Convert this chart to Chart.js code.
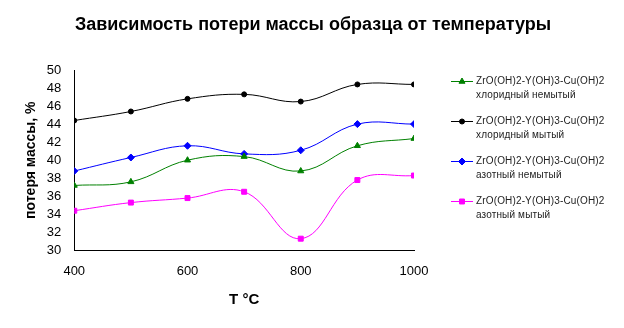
<!DOCTYPE html>
<html>
<head>
<meta charset="utf-8">
<script src="https://cdn.jsdelivr.net/npm/chart.js@4"></script>
<style>
  html, body { margin: 0; padding: 0; background: #fff; }
  #wrap { width: 624px; height: 328px; }
</style>
</head>
<body>
<div id="wrap"><canvas id="c" width="624" height="328"></canvas></div>
<script>
// Temperatures, °C
const temperatures = [400, 500, 600, 700, 800, 900, 1000];
// Mass loss, %
const chlorideUnwashed = [37.2, 37.6, 40.0, 40.4, 38.8, 41.6, 42.4];
const chlorideWashed   = [44.4, 45.4, 46.8, 47.3, 46.5, 48.4, 48.4];
const nitrateUnwashed  = [38.8, 40.3, 41.6, 40.7, 41.1, 44.0, 44.0];
const nitrateWashed    = [34.4, 35.3, 35.8, 36.5, 31.3, 37.8, 38.3];
const xTicks = [400, 600, 800, 1000];
const yTicks = [30, 32, 34, 36, 38, 40, 42, 44, 46, 48, 50];

const chartTitle = 'Зависимость потери массы образца от температуры';
const compound = 'ZrO(OH)2-Y(OH)3-Cu(OH)2';
const seriesLabels = [
  [compound, 'хлоридный немытый'],
  [compound, 'хлоридный мытый'],
  [compound, 'азотный немытый'],
  [compound, 'азотный мытый']
];

const FONT = '"Liberation Sans", Arial, sans-serif';

function pts(values) {
  return temperatures.map((t, i) => ({ x: t, y: values[i] }));
}

function series(values, label, color, style, radius) {
  return {
    label: label,
    data: pts(values),
    borderColor: color,
    backgroundColor: color,
    borderWidth: 1,
    pointStyle: style,
    pointRadius: radius,
    pointBorderWidth: 1,
    pointHoverRadius: radius,
    tension: 0.4
  };
}

// Title centred across the whole canvas
const pageTitle = {
  id: 'pageTitle',
  afterDraw(chart) {
    const ctx = chart.ctx;
    ctx.save();
    ctx.fillStyle = '#000';
    ctx.font = 'bold 18px ' + FONT;
    ctx.textAlign = 'center';
    ctx.textBaseline = 'middle';
    ctx.fillText(chartTitle, 313, 25);
    ctx.restore();
  }
};

// Legend on the right side, two lines per entry
const sideLegend = {
  id: 'sideLegend',
  afterDraw(chart) {
    const ctx = chart.ctx;
    ctx.save();
    const x0 = 451, x1 = 473, tx = 476;
    let y = 81;
    chart.data.datasets.forEach(ds => {
      ctx.strokeStyle = ds.borderColor;
      ctx.fillStyle = ds.backgroundColor;
      ctx.lineWidth = 1;
      ctx.beginPath();
      ctx.moveTo(x0, y + 0.5);
      ctx.lineTo(x1, y + 0.5);
      ctx.stroke();
      Chart.helpers.drawPoint(ctx, {
        pointStyle: ds.pointStyle,
        radius: ds.pointRadius,
        rotation: 0,
        borderWidth: 1
      }, (x0 + x1) / 2, y + 0.5);
      ctx.fillStyle = '#222';
      ctx.font = '10px ' + FONT;
      ctx.textBaseline = 'middle';
      ctx.textAlign = 'left';
      if ('letterSpacing' in ctx) ctx.letterSpacing = '0.15px';
      ctx.fillText(ds.label[0], tx, y);
      ctx.fillText(ds.label[1], tx, y + 14);
      if ('letterSpacing' in ctx) ctx.letterSpacing = '0px';
      y += 40;
    });
    ctx.restore();
  }
};

Chart.defaults.font.family = FONT;
Chart.defaults.color = '#000';

new Chart(document.getElementById('c'), {
  type: 'line',
  data: {
    datasets: [
      series(chlorideUnwashed, seriesLabels[0], '#008000', 'triangle', 3.5),
      series(chlorideWashed,   seriesLabels[1], '#000000', 'circle', 2.5),
      series(nitrateUnwashed,  seriesLabels[2], '#0000ff', 'rectRot', 3.5),
      series(nitrateWashed,    seriesLabels[3], '#ff00ff', 'rect', 3.5)
    ]
  },
  options: {
    responsive: false,
    animation: false,
    events: [],
    layout: { padding: { top: 70, right: 210, left: 23, bottom: 15 } },
    plugins: {
      legend: { display: false },
      tooltip: { enabled: false },
      title: { display: false }
    },
    scales: {
      x: {
        type: 'linear',
        min: 400,
        max: 1000,
        afterBuildTicks(scale) { scale.ticks = xTicks.map(v => ({ value: v })); },
        grid: { display: false, drawOnChartArea: false, drawTicks: true, tickLength: 5, color: '#000' },
        border: { display: true, color: '#000', width: 1 },
        ticks: { font: { size: 13 }, color: '#000', padding: 8, maxRotation: 0, autoSkip: false, callback: v => String(v) },
        title: { display: true, text: 'T °C', font: { size: 15, weight: 'bold' }, color: '#000', padding: { top: 4, bottom: 4 } }
      },
      y: {
        min: 30,
        max: 50,
        afterBuildTicks(scale) { scale.ticks = yTicks.map(v => ({ value: v })); },
        grid: { display: false, drawOnChartArea: false, drawTicks: true, tickLength: 6, color: '#000' },
        border: { display: true, color: '#000', width: 1 },
        ticks: { font: { size: 13 }, color: '#000', padding: 7, autoSkip: false },
        title: { display: true, text: 'потеря массы, %', font: { size: 14, weight: 'bold' }, color: '#000', padding: { top: 0, bottom: 0 } }
      }
    }
  },
  plugins: [pageTitle, sideLegend]
});
</script>
</body>
</html>
